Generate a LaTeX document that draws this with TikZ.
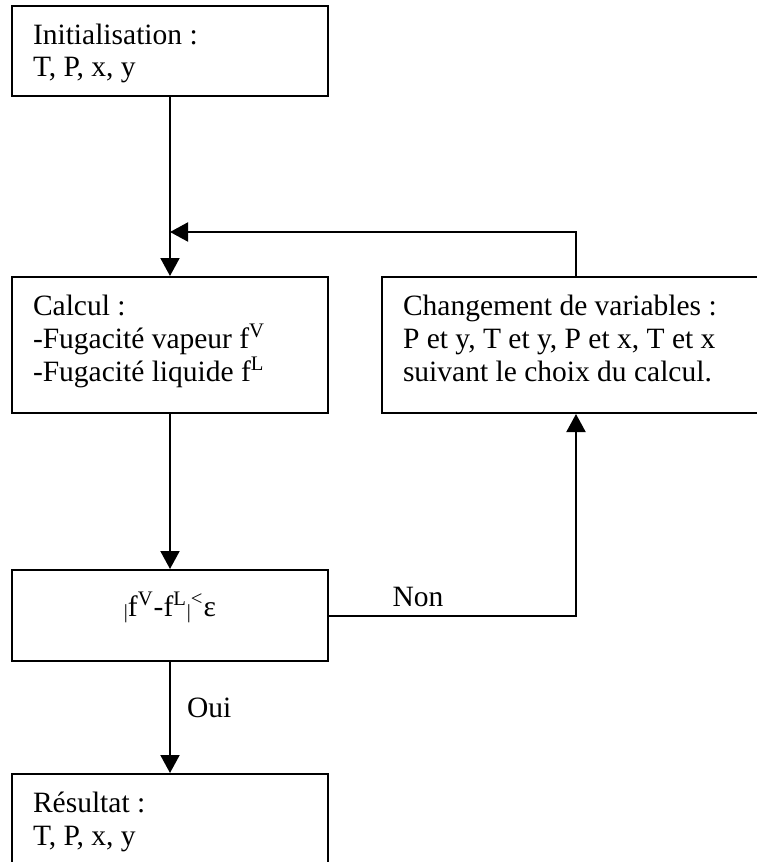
\documentclass[tikz,border=0pt]{standalone}
\usepackage{fontspec}
\setmainfont{Liberation Serif}
\usetikzlibrary{positioning, arrows.meta, calc}

\newcommand{\boxfont}{\fontsize{14.75}{16.5}\selectfont}
\newcommand{\lowbar}{\raisebox{-1pt}{\fontsize{10}{10}\selectfont|}}

\begin{document}
\begin{tikzpicture}[>={Triangle[length=9pt, width=9.5pt]}, x=0.5pt, y=-0.5pt,
  line width=1pt,
  flowbox/.style={draw, anchor=north west, inner xsep=10.5pt, inner ysep=0pt,
    text width=137pt, align=left, text height=19pt, font=\boxfont,
    execute at begin node={\spaceskip=0.25em\xspaceskip=0.25em\relax}},
  flow/.style={->},
  answer/.style={inner sep=0pt, font=\boxfont}]

% --- Frame ---
\useasboundingbox (0, 0) rectangle (756, 862);

% --- Boxes ---
\node[flowbox, text depth=26pt] (init) at (11, 5)
  {Initialisation :\\ T, P, x, y};
\node[flowbox, text depth=49pt] (calcul) at (11, 276)
  {Calcul :\\ -Fugacité vapeur f\textsuperscript{V}\\ -Fugacité liquide f\textsuperscript{L}};
\node[flowbox, text depth=49pt, text width=173pt] (change) at (381, 276)
  {Changement de variables :\\ P et y, T et y, P et x, T et x\\ suivant le choix du calcul.};
\node[flowbox, align=center, text height=23pt, text depth=22.5pt] (test) at (11, 569)
  {\lowbar f\textsuperscript{V}-f\textsuperscript{L}\lowbar\textsuperscript{<}ε};
\node[flowbox, text depth=31pt] (result) at (11, 773)
  {Résultat :\\ T, P, x, y};

% --- Loop join ---
\coordinate (merge) at (init.south |- 0,232);

% --- Connectors ---
\draw[flow] (init) -- (calcul);
\draw[flow] (change.north) |- (merge);
\draw[flow] (calcul) -- (test);
\draw[flow] (test.east) -| node[answer, anchor=base, pos=0.18, yshift=4.5pt] (non) {Non} (change.south);
\draw[flow] (test) -- node[answer, anchor=base west, pos=0.5, xshift=8pt] (oui) {Oui} (result);

\end{tikzpicture}
\end{document}
